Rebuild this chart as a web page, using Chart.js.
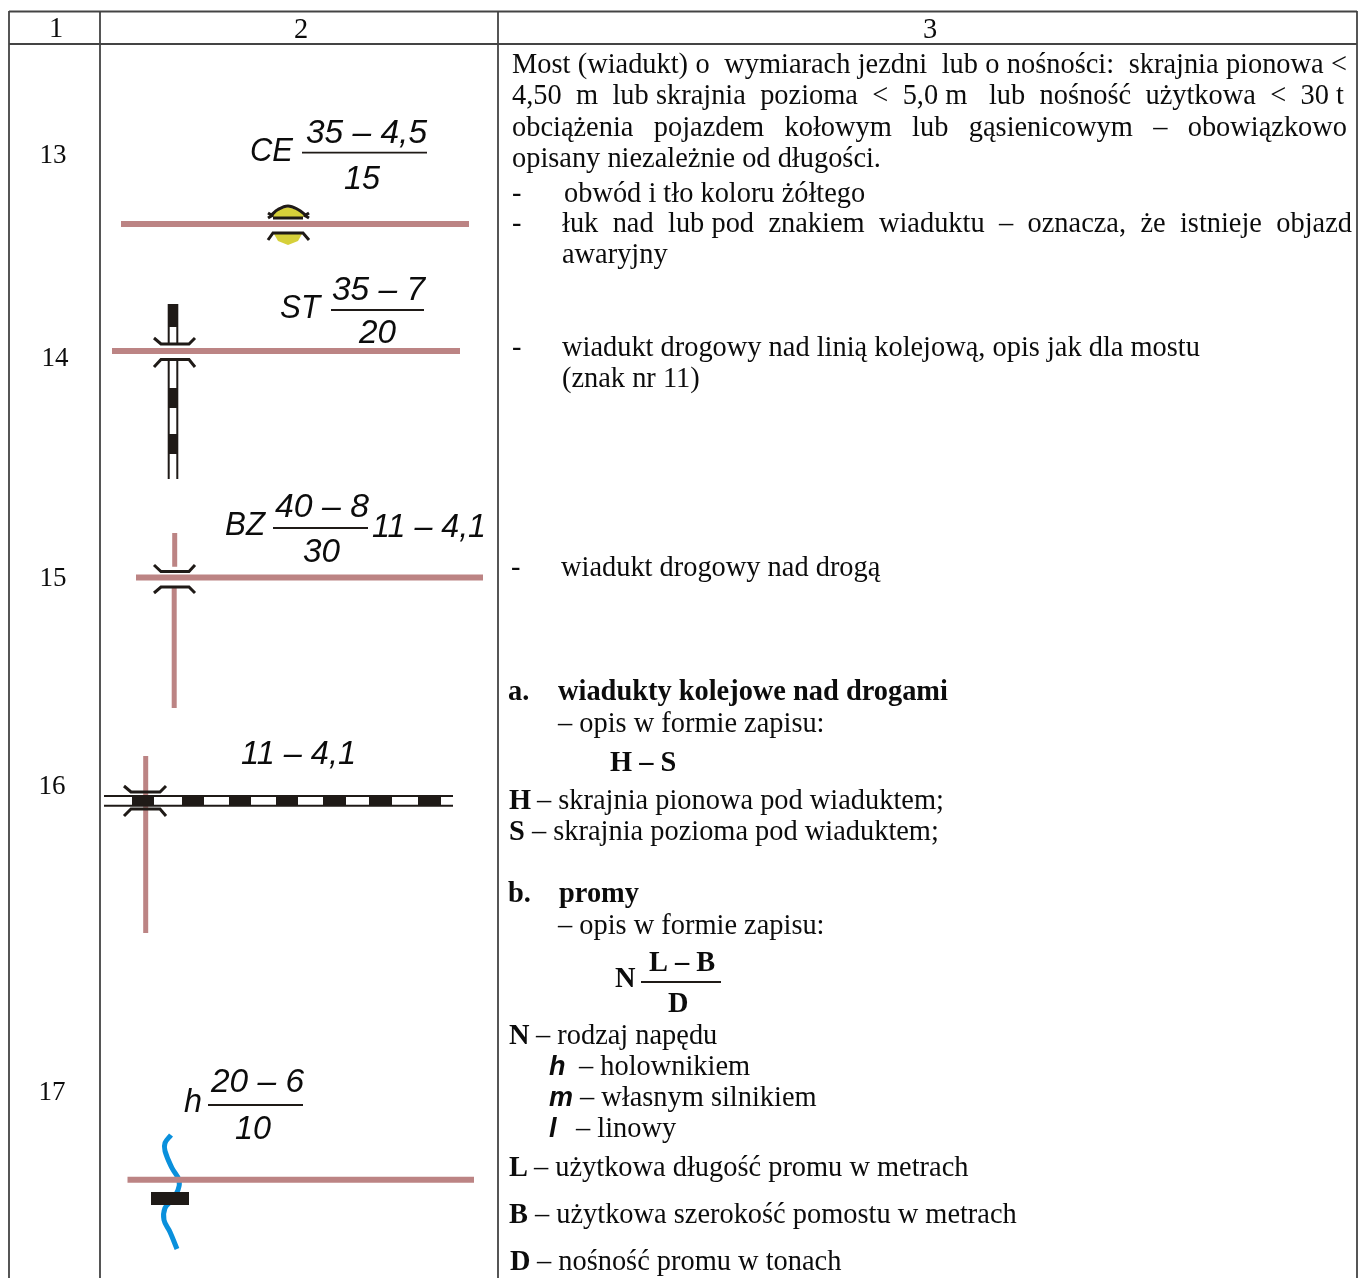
<!DOCTYPE html>
<html><head><meta charset="utf-8">
<style>html,body{margin:0;padding:0;background:#fff}#w{position:absolute;left:0;top:0;width:1359px;height:1278px}</style>
<script src="https://cdn.jsdelivr.net/npm/chart.js@4"></script></head>
<body><div id="w"><canvas id="c" width="1359" height="1278"></canvas></div>
<script>
// ---- colours ----
const GRID='#444444', PINK='#bc8484', INK='#1f1a17', YELLOW='#d6d03a', BLUE='#0a90dc';
// ---- table rules ----
const gridLines=[
 [[9,11.5],[1357,11.5]],[[9,44],[1357,44]],
 [[9,11],[9,1278]],[[100,11],[100,1278]],[[498,11],[498,1278]],[[1357,11],[1357,1278]]];
// ---- pink roads ----
const roadLines=[
 [[121,224],[469,224]],[[112,351],[460,351]],[[136,577.5],[483,577.5]],[[127.5,1179.7],[474,1179.7]]];
const crossRoads=[
 [[174.7,533],[174.7,566.7]],[[174.2,587],[174.2,708]],[[145.7,756],[145.7,933]]];
// ---- fraction bars ----
const fractionBars=[
 [[302,152.7],[427,152.7]],[[331,310],[424,310]],[[273,528],[368,528]],[[208,1105],[303,1105]]];
const answerBar=[[[641,982],[721,982]]];
// ---- bridge wings ----
const wings=[
 [[154,338],[161,344],[189,344],[195,338]],[[154,367],[161,359.5],[189,359.5],[195,367]],
 [[154,565],[161,571.5],[189,571.5],[195,565]],[[154,593],[161,587],[189,587],[195,593]],
 [[124,786],[131,792],[160,792],[166,786]],[[124,816],[131,809],[160,809],[166,816]],
 [[268,240],[273,233],[303,233],[309,240]],[[273,218],[303,218]],
 [[268,213],[273,216]],[[268,218],[273,215]],[[309,213],[304,216]],[[309,218],[304,215]]];
const capArc=[[271,215.5],[278,209.5],[288,206],[298,209.5],[306,215.5]];
// ---- yellow caps ----
const yellowCaps=[
 [[271,217],[278,210],[288,207],[298,210],[306,217],[271,217]],
 [[274,234],[302,234],[298,241],[288,245],[278,241],[274,234]]];
// ---- railway ----
const railLines=[
 [[168.7,304],[168.7,345]],[[177.3,304],[177.3,345]],[[168.7,360],[168.7,479]],[[177.3,360],[177.3,479]],
 [[104,796],[453,796]],[[104,805.7],[453,805.7]]];
const railBlocksV=[[[173,304],[173,327]],[[173,388],[173,408]],[[173,434],[173,454]]];
const railBlocksH=[[[132,801],[154,801]],[[182,801],[204,801]],[[229,801],[251,801]],[[276,801],[298,801]],[[323,801],[346,801]],[[369,801],[392,801]],[[418,801],[441,801]]];
// ---- ferry ----
const river=[[171,1135],[165,1143],[165,1151],[172,1168],[179,1180],[178,1190],[172,1200],[165,1208],[164,1220],[170,1232],[177,1249]];
const ferryBox=[[[151,1198.5],[189,1198.5]]];
// ---- text: x, baseline y, string, style key, justified/fitted width ----
const columnHeaders=[[56,37,'1','c'],[301,38,'2','c'],[930,38,'3','c']];
const rowNumbers=[[53,163,'13','n'],[55,366,'14','n'],[53,586,'15','n'],[52,794,'16','n'],[52,1100,'17','n']];
const symbolLabels=[
 [250,161,'CE','s',43],[306,143,'35 – 4,5','s',121],[344,189,'15','s',36],
 [280,318,'ST','s',40],[332,300,'35 – 7','s',93],[359,343,'20','s',37],
 [225,535,'BZ','s',40],[275,517,'40 – 8','s',94],[372,537,'11 – 4,1','s',114],[303,562,'30','s',37],
 [241,764,'11 – 4,1','s',115],
 [184,1112,'h','s',18],[211,1092,'20 – 6','s',93],[235,1139,'10','s',36]];
const bodyText=[
 [512,73,'Most (wiadukt) o  wymiarach jezdni  lub o nośności:  skrajnia pionowa <','r',835],
 [512,104,'4,50  m  lub skrajnia  pozioma  <  5,0 m   lub  nośność  użytkowa  <  30 t','r',832],
 [512,136,'obciążenia  pojazdem  kołowym  lub  gąsienicowym  –  obowiązkowo','r',835],
 [512,167,'opisany niezależnie od długości.','r'],
 [512,202,'-','r'],[564,202,'obwód i tło koloru żółtego','r'],
 [512,232,'-','r'],[562,232,'łuk  nad  lub pod  znakiem  wiaduktu  –  oznacza,  że  istnieje  objazd','r',790],
 [562,263,'awaryjny','r'],
 [512,356,'-','r'],[562,356,'wiadukt drogowy nad linią kolejową, opis jak dla mostu','r'],
 [562,387,'(znak nr 11)','r'],
 [511,576,'-','r'],[561,576,'wiadukt drogowy nad drogą','r'],
 [508,700,'a.','b'],[558,700,'wiadukty kolejowe nad drogami','b'],
 [558,732,'– opis w formie zapisu:','r'],
 [610,771,'H – S','b'],
 [509,809,'H','b'],[537,809,'– skrajnia pionowa pod wiaduktem;','r'],
 [509,840,'S','b'],[532,840,'– skrajnia pozioma pod wiaduktem;','r'],
 [508,902,'b.','b'],[559,902,'promy','b'],
 [558,934,'– opis w formie zapisu:','r'],
 [615,987,'N','b'],[649,971,'L – B','b'],[668,1012,'D','b'],
 [509,1044,'N','b'],[536,1044,'– rodzaj napędu','r'],
 [549,1075,'h','i'],[579,1075,'– holownikiem','r'],
 [549,1106,'m','i'],[580,1106,'– własnym silnikiem','r'],
 [549,1137,'l','i'],[576,1137,'– linowy','r'],
 [509,1176,'L','b'],[534,1176,'– użytkowa długość promu w metrach','r'],
 [509,1223,'B','b'],[535,1223,'– użytkowa szerokość pomostu w metrach','r'],
 [510,1270,'D','b'],[537,1270,'– nośność promu w tonach','r']];
const FONTS={
 r:'28.4px "Liberation Serif"', c:'28.4px "Liberation Serif"', n:'27px "Liberation Serif"', b:'bold 28.4px "Liberation Serif"',
 s:'italic 34px "Liberation Sans"', i:'italic bold 27px "Liberation Sans"'};

function lineSet(pts,color,width,extra){
 return Object.assign({data:pts.map(p=>({x:p[0],y:p[1]})),borderColor:color,borderWidth:width,
  pointRadius:0,showLine:true,fill:false,tension:0},extra||{});
}
const datasets=[];
yellowCaps.forEach(s=>datasets.push(lineSet(s,YELLOW,0,{fill:'shape',backgroundColor:YELLOW})));
crossRoads.forEach(s=>datasets.push(lineSet(s,PINK,5)));
railLines.forEach(s=>datasets.push(lineSet(s,INK,2)));
railBlocksV.forEach(s=>datasets.push(lineSet(s,INK,10)));
railBlocksH.forEach(s=>datasets.push(lineSet(s,INK,10)));
datasets.push(lineSet(river,BLUE,5,{tension:0.4}));
roadLines.forEach(s=>datasets.push(lineSet(s,PINK,6)));
ferryBox.forEach(s=>datasets.push(lineSet(s,INK,13)));
wings.forEach(s=>datasets.push(lineSet(s,INK,3)));
datasets.push(lineSet(capArc,INK,3,{tension:0.4}));
fractionBars.forEach(s=>datasets.push(lineSet(s,INK,1.8)));
answerBar.forEach(s=>datasets.push(lineSet(s,INK,2)));
gridLines.forEach(s=>datasets.push(lineSet(s,GRID,1.8)));
// Chart.js paints dataset 0 last, so reverse to keep this listing bottom-to-top
datasets.reverse();

const textPlugin={id:'textLayer',afterDraw(chart){
 const {ctx,scales:{x,y}}=chart; ctx.save(); ctx.fillStyle='#0c0c0c'; ctx.textBaseline='alphabetic';
 const draw=t=>{
  ctx.font=FONTS[t[3]]; ctx.textAlign=(t[3]==='c'||t[3]==='n')?'center':'left'; ctx.wordSpacing='0px';
  const px=x.getPixelForValue(t[0]), py=y.getPixelForValue(t[1]);
  if(t[3]==='s'&&t[4]){ctx.fillText(t[2],px,py,t[4]);return;}
  if(t[4]){const gaps=(t[2].match(/ /g)||[]).length; const w=ctx.measureText(t[2]).width;
   ctx.wordSpacing=((t[4]-w)/gaps)+'px';}
  ctx.fillText(t[2],px,py);
 };
 [columnHeaders,rowNumbers,symbolLabels,bodyText].forEach(a=>a.forEach(draw));
 ctx.restore();
}};

new Chart(document.getElementById('c'),{
 type:'scatter',
 data:{datasets},
 options:{responsive:false,animation:false,layout:{padding:0},
  plugins:{legend:{display:false},tooltip:{enabled:false},title:{display:false}},
  scales:{
   x:{type:'linear',min:0,max:1359,display:false,grid:{display:false}},
   y:{type:'linear',min:0,max:1278,reverse:true,display:false,grid:{display:false}}},
  clip:false},
 plugins:[textPlugin]});
</script></body></html>
